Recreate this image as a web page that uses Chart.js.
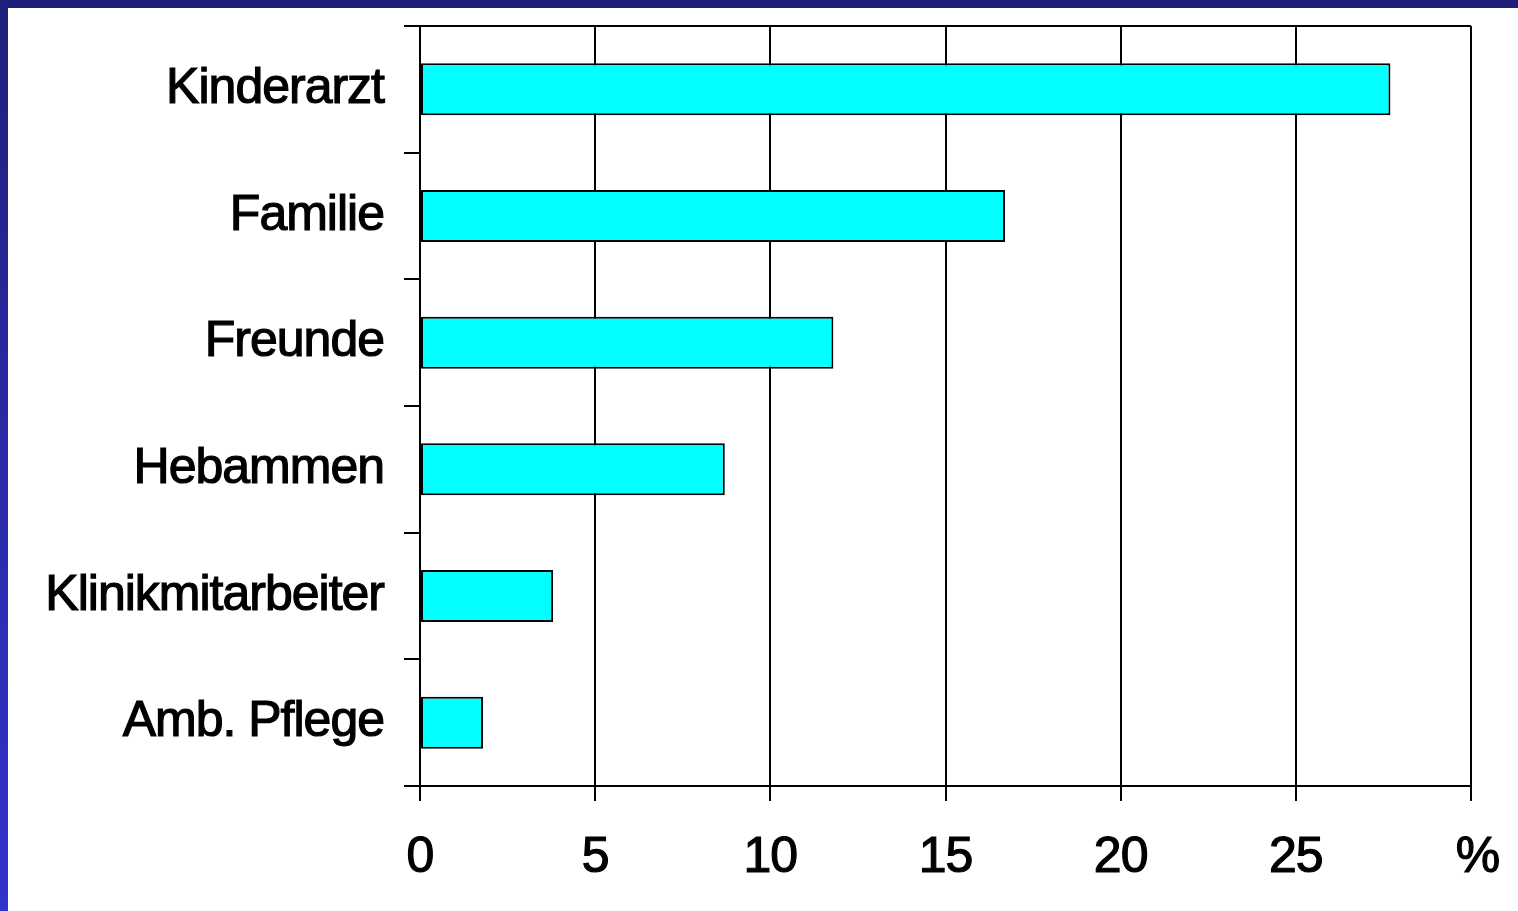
<!DOCTYPE html>
<html lang="de">
<head>
<meta charset="utf-8">
<title>Informationsquellen</title>
<script src="https://cdn.jsdelivr.net/npm/chart.js@4.4.1/dist/chart.umd.min.js"></script>
<style>
  html, body { margin: 0; padding: 0; background: #ffffff; }
  #wrap { position: relative; width: 1518px; height: 911px; overflow: hidden; background: #ffffff; }
  #chart { position: absolute; left: 0; top: 0; }
  .band-top { position: absolute; left: 0; top: 0; width: 1518px; height: 8px; background: #1f1f7b; }
  .band-left { position: absolute; left: 0; top: 0; width: 8px; height: 911px;
               background: linear-gradient(to bottom, #1f1f7b 0%, #2a2aa8 50%, #3232cc 100%); }
</style>
</head>
<body>
<div id="wrap">
  <canvas id="chart" width="1518" height="911"></canvas>
  <div class="band-top"></div>
  <div class="band-left"></div>
</div>
<script>
// Categories (top to bottom) and their shares in percent
const categories = ['Kinderarzt', 'Familie', 'Freunde', 'Hebammen', 'Klinikmitarbeiter', 'Amb. Pflege'];
const shares = [27.7, 16.7, 11.8, 8.7, 3.8, 1.8];

// Value axis ticks; the last tick carries the unit instead of a number
const axisTicks = [0, 5, 10, 15, 20, 25, 30];
const axisUnit = '%';

const FONT = "'Liberation Sans', Arial, sans-serif";

// Slightly tighter lettering for all canvas text
const tightText = {
  id: 'tightText',
  beforeDraw(chart) { chart.ctx.letterSpacing = '-1px'; }
};

new Chart(document.getElementById('chart'), {
  type: 'bar',
  data: {
    labels: categories,
    datasets: [{
      data: shares,
      backgroundColor: '#00ffff',
      borderColor: '#000000',
      borderWidth: 2,
      borderSkipped: false,
      barPercentage: 0.41,
      categoryPercentage: 1.0
    }]
  },
  plugins: [tightText],
  options: {
    indexAxis: 'y',
    responsive: false,
    animation: false,
    events: [],
    layout: { padding: { top: 26, right: 47, bottom: 0, left: 0 } },
    plugins: {
      legend: { display: false },
      tooltip: { enabled: false }
    },
    scales: {
      x: {
        type: 'linear',
        min: axisTicks[0],
        max: axisTicks[axisTicks.length - 1],
        afterBuildTicks: (scale) => { scale.ticks = axisTicks.map(v => ({ value: v })); },
        afterFit: (scale) => {
          scale.height = 125;
          scale.paddingLeft = 0;
          scale.paddingRight = 0;
        },
        border: { display: true, color: '#000000', width: 2 },
        grid: {
          color: '#000000',
          tickColor: '#000000',
          lineWidth: 2,
          tickLength: 15,
          drawTicks: true
        },
        ticks: {
          autoSkip: false,
          maxRotation: 0,
          padding: 27,
          color: '#000000',
          textStrokeColor: '#000000',
          textStrokeWidth: 1.2,
          font: { family: FONT, size: 50 },
          callback: (v) => (v === axisTicks[axisTicks.length - 1] ? ' ' + axisUnit : String(v))
        }
      },
      y: {
        type: 'category',
        offset: true,
        afterFit: (scale) => {
          scale.width = 420;
          scale.paddingTop = 0;
          scale.paddingBottom = 0;
        },
        border: { display: true, color: '#000000', width: 2 },
        grid: {
          offset: true,
          // only the upper frame line crosses the plot; the others are ticks
          color: (ctx) => (ctx.index === 0 ? '#000000' : 'rgba(0,0,0,0)'),
          tickColor: '#000000',
          lineWidth: 2,
          tickLength: 16
        },
        ticks: {
          padding: 20,
          color: '#000000',
          textStrokeColor: '#000000',
          textStrokeWidth: 1.2,
          font: { family: FONT, size: 50 }
        }
      }
    }
  }
});
</script>
</body>
</html>
